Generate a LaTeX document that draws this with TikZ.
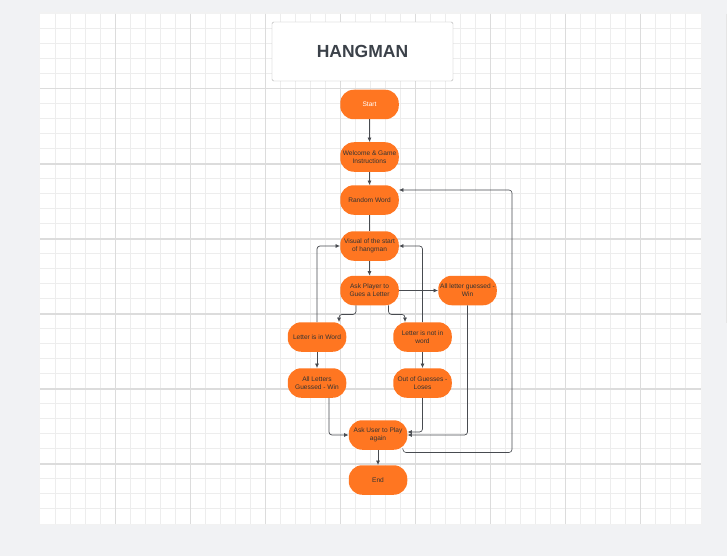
\documentclass[tikz,border=0pt]{standalone}
\usepackage{fontspec}
\setmainfont{Liberation Sans}
\usepackage{tikz}
\usetikzlibrary{positioning, arrows.meta}
\definecolor{hangorange}{RGB}{255,118,33}
\definecolor{hangtext}{RGB}{51,51,51}
\definecolor{hangline}{RGB}{72,75,80}
\definecolor{hangback}{RGB}{241,242,244}
\definecolor{gridminor}{RGB}{237,237,237}
\definecolor{gridmajor}{RGB}{220,220,220}
\definecolor{titletext}{RGB}{59,65,73}
\tikzset{
    x=1pt, y=1pt, % one unit is one pixel of the board
    >={Latex[length=4.5pt,width=4pt]}, % small filled arrow tips
    stepbox/.style={rectangle, rounded corners=13.5pt, fill=hangorange, text=hangtext, minimum width=58.5pt, minimum height=29.5pt, inner sep=1pt, align=center, font=\fontsize{6.6}{8}\selectfont}, % sets the look of every box
    flow/.style={->, draw=hangline, line width=0.7pt, rounded corners=3pt}, % sets the look of the connectors
    }

\begin{document}
\begin{tikzpicture}
\useasboundingbox (0,0) rectangle (727,-556);
% board with its grid
\fill[hangback] (0,0) rectangle (727,-556);
\draw[black!5, line width=3pt] (40,-14) rectangle (700.5,-523.7);
\fill[white] (40,-14) rectangle (700.5,-523.7);
\draw[black!10, line width=1pt] (726.5,-14) -- (726.5,-323);
\foreach \i [evaluate=\i as \gx using 40.5+15*\i] in {1,...,43}
    \draw[gridminor, line width=1.2pt] (\gx,-14) -- (\gx,-523.7);
\foreach \i [evaluate=\i as \gy using -13.7-15*\i] in {1,...,33}
    \draw[gridminor, line width=1.2pt] (40,\gy) -- (700.5,\gy);
\foreach \m [evaluate=\m as \gx using 40.5+75*\m] in {1,...,8}
    \draw[gridmajor, line width=1.1pt] (\gx,-14) -- (\gx,-523.7);
\foreach \m [evaluate=\m as \gy using -13.7-75*\m] in {1,...,6}
    \draw[gridmajor, line width=1.6pt] (40,\gy) -- (700.5,\gy);

\node[draw=gray!60, fill=white, rounded corners=1.5pt, minimum width=181pt, minimum height=59pt, text=titletext, font=\fontsize{17.5}{20}\selectfont\bfseries] (title) at (362.5,-51.5) {HANGMAN};
\node[stepbox, text=white] (start) at (369.5,-104.5) {Start};
\node[stepbox, below of=start, node distance=52.5pt] (welcome) {Welcome \& Game\\Instructions};
\node[stepbox, below of=welcome, node distance=43pt] (random) {Random Word};
\node[stepbox, below of=random, node distance=46pt] (visual) {Visual of the start\\of hangman};
\node[stepbox, below of=visual, node distance=44.5pt] (ask) {Ask Player to\\Gues a Letter};
\node[stepbox, right of=ask, node distance=98pt] (guessall) {All letter guessed -\\Win};
\node[stepbox, below of=ask, node distance=46.5pt, xshift=-52.5pt] (inword) {Letter is in Word};
\node[stepbox, below of=ask, node distance=46.5pt, xshift=53pt] (notin) {Letter is not in\\word};
\node[stepbox, below of=inword, node distance=46pt] (allwin) {All Letters\\Guessed - Win};
\node[stepbox, below of=notin, node distance=46pt] (lose) {Out of Guesses -\\Loses};
\node[stepbox, below of=allwin, node distance=52pt, xshift=61pt] (again) {Ask User to Play\\again};
\node[stepbox, below of=again, node distance=45pt] (end) {End};
\coordinate (loop) at (512,-452.5);

\draw[flow] (start) -- (welcome);
\draw[flow] (welcome) -- (random);
\draw[flow, -] (random) -- (visual);
\draw[flow] (visual) -- (ask);
\draw[flow] ([xshift=-13.5pt]ask.south) -- ++(0,-9) -| ([xshift=22pt]inword.north);
\draw[flow] ([xshift=19pt]ask.south) -- ++(0,-9) -| ([xshift=-17.5pt]notin.north);
\draw[flow] (ask.east) -- (ask.east -| guessall.west);
\draw[flow] (inword) -- (allwin);
\draw[flow] (notin) -- (lose);
\draw[flow] (inword.north) |- (visual.west);
\draw[flow] (notin.north) |- (visual.east);
\draw[flow] (guessall.south) |- (again.east);
\draw[flow] (lose.south) |- ([yshift=3pt]again.east);
\draw[flow] ([xshift=12pt]allwin.south) |- (again.west);
\draw[flow] (again) -- (end);
\draw[flow, line width=0.6pt] ([xshift=25pt]again.south) |- (loop) |- ([yshift=10pt]random.east);
\end{tikzpicture}
\end{document}
